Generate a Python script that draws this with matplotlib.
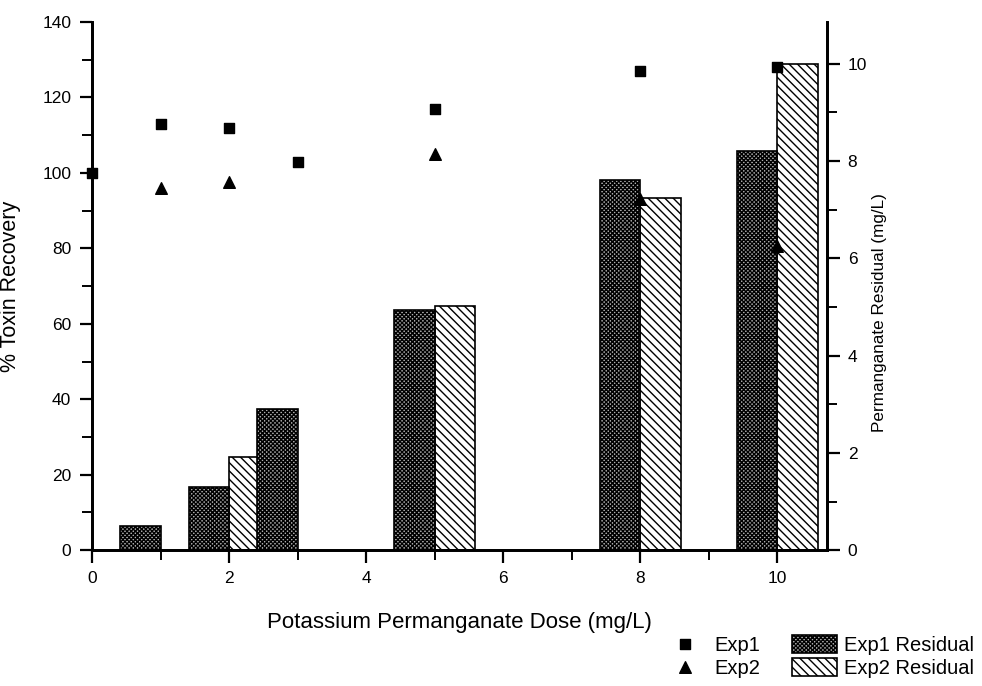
import numpy as np
import matplotlib
matplotlib.use("Agg")
import matplotlib.pyplot as plt
from matplotlib.ticker import MultipleLocator

# -----------------------------
# Data
# -----------------------------
dose_exp1 = [0, 1, 2, 3, 5, 8, 10]
recovery_exp1 = [100, 113, 112, 103, 117, 127, 128]

dose_exp2 = [1, 2, 5, 8, 10]
recovery_exp2 = [96, 97.5, 105, 93, 80.5]

res_dose_exp1 = [1, 2, 3, 5, 8, 10]
residual_exp1 = [0.5, 1.3, 2.9, 4.93, 7.62, 8.2]

res_dose_exp2 = [2, 5, 8, 10]
residual_exp2 = [1.92, 5.02, 7.25, 10.0]

plt.rcParams['font.family'] = ['Liberation Sans', 'DejaVu Sans']
plt.rcParams['hatch.linewidth'] = 1.0

fig = plt.figure(figsize=(9.82, 6.86), dpi=100)
ax = fig.add_axes([0.0937, 0.198, 0.842 - 0.0937, 0.968 - 0.198])
ax2 = ax.twinx()

# bars on the right axis
bar_w = 0.59
b1 = ax2.bar(res_dose_exp1, residual_exp1, width=-bar_w, align='edge',
             facecolor='#b0b0b0', edgecolor='black', hatch='xxxxxxxx',
             linewidth=1.2, zorder=3)
b2 = ax2.bar(res_dose_exp2, residual_exp2, width=bar_w, align='edge',
             facecolor='white', edgecolor='black', hatch='\\' * 4,
             linewidth=1.2, zorder=2)

# markers on the left axis, kept above the bars
ax.set_zorder(ax2.get_zorder() + 1)
ax.patch.set_visible(False)
s1 = ax.scatter(dose_exp1, recovery_exp1, marker='s', s=55, color='black',
                zorder=5, clip_on=False)
s2 = ax.scatter(dose_exp2, recovery_exp2, marker='^', s=70, color='black',
                zorder=5, clip_on=False)

ax.set_xlim(0, 10.72)
ax.set_ylim(0, 140)
ax2.set_ylim(0, 10.86)

ax.xaxis.set_major_locator(MultipleLocator(2))
ax.xaxis.set_minor_locator(MultipleLocator(1))
ax.yaxis.set_major_locator(MultipleLocator(20))
ax.yaxis.set_minor_locator(MultipleLocator(10))
ax2.yaxis.set_major_locator(MultipleLocator(2))
ax2.yaxis.set_minor_locator(MultipleLocator(1))

for a in (ax, ax2):
    a.spines['top'].set_visible(False)
    for sp in ('left', 'right', 'bottom'):
        a.spines[sp].set_linewidth(2)
    a.tick_params(which='major', direction='out', length=9, width=1.6,
                  labelsize=12.5, pad=6)
    a.tick_params(which='minor', direction='out', length=7, width=1.4)

ax.set_xlabel('Potassium Permanganate Dose (mg/L)', fontsize=16, labelpad=19)
ax.set_ylabel('% Toxin Recovery', fontsize=15.5)
ax.yaxis.set_label_coords(-0.097, 0.5)
ax2.set_ylabel('Permanganate Residual (mg/L)', fontsize=12.3)
ax2.yaxis.set_label_coords(1.061, 0.449)

handles = [s1, s2, b1, b2]
labels = ['Exp1', 'Exp2', 'Exp1 Residual', 'Exp2 Residual']
fig.legend(handles, labels, ncol=2, loc='lower right',
           bbox_to_anchor=(1.0, 0.0), borderaxespad=0.0, frameon=False,
           fontsize=14.5, handlelength=2.24, handleheight=1.0,
           columnspacing=1.55, handletextpad=0.35, labelspacing=0.15)

fig.savefig('out.png', dpi=100)
